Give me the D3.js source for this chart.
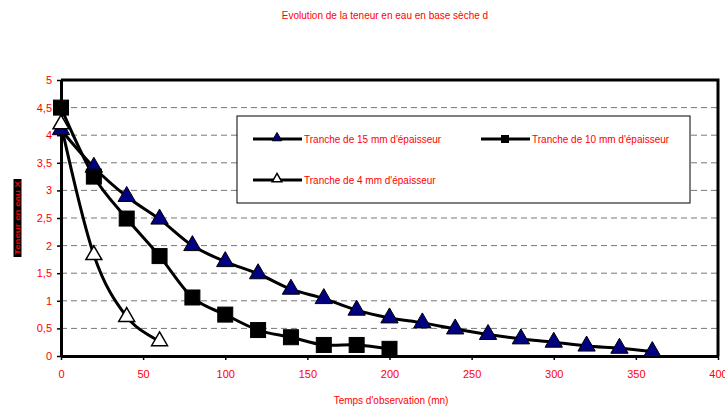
<!DOCTYPE html>
<html>
<head>
<meta charset="utf-8">
<script src="https://cdn.jsdelivr.net/npm/d3@7"></script>
<style>
  body { margin: 0; background: #fff; }
  text { font-family: "Liberation Sans", Arial, sans-serif; }
</style>
</head>
<body>
<svg id="chart" width="725" height="406"></svg>
<script>
// Data (time in mn, moisture content)
const time15 = [0, 20, 40, 60, 80, 100, 120, 140, 160, 180, 200, 220, 240, 260, 280, 300, 320, 340, 360];
const val15  = [4.1, 3.42, 2.89, 2.48, 2.0, 1.71, 1.49, 1.21, 1.04, 0.83, 0.69, 0.6, 0.49, 0.39, 0.31, 0.25, 0.18, 0.14, 0.08];
const time10 = [0, 20, 40, 60, 80, 100, 120, 140, 160, 180, 200];
const val10  = [4.5, 3.25, 2.49, 1.81, 1.06, 0.75, 0.47, 0.34, 0.2, 0.2, 0.13];
const time4  = [0, 20, 40, 60];
const val4   = [4.2, 1.83, 0.71, 0.27];
const xTicks = [0, 50, 100, 150, 200, 250, 300, 350, 400];
const yTicks = [0, 0.5, 1, 1.5, 2, 2.5, 3, 3.5, 4, 4.5, 5];
const seriesNames = ["Tranche de 15 mm d'épaisseur", "Tranche de 10 mm d'épaisseur", "Tranche de 4 mm d'épaisseur"];

const margin = {top: 80, right: 6, bottom: 50, left: 61};
const svg = d3.select('#chart');
const width = 725 - margin.left - margin.right;
const height = 406 - margin.top - margin.bottom;
const red = '#ff0000';

const x = d3.scaleLinear().domain([0, 400]).range([0, width - 1]);
const y = d3.scaleLinear().domain([0, 5]).range([height, 0]);

const chart = svg.append('g').attr('transform', `translate(${margin.left},${margin.top})`);

// title
svg.append('text')
    .attr('x', 385).attr('y', 19)
    .attr('text-anchor', 'middle')
    .attr('fill', red).attr('font-size', 10)
    .text('Evolution de la teneur en eau en base sèche d');

// dashed gridlines
chart.selectAll('.grid')
    .data(yTicks.filter(d => d > 0 && d < 5))
  .join('line')
    .attr('x1', 0).attr('x2', width)
    .attr('y1', d => y(d)).attr('y2', d => y(d))
    .attr('stroke', '#777').attr('stroke-width', 1)
    .attr('stroke-dasharray', '6,4');

// frame (top and right)
chart.append('path')
    .attr('d', `M0,${y(5)}H${x(400)}V${y(0)}`)
    .attr('fill', 'none').attr('stroke', '#000').attr('stroke-width', 3);

// axes
const xAxis = d3.axisBottom(x).tickValues(xTicks).tickSize(4).tickSizeOuter(0).tickFormat(d3.format('d'));
const yAxis = d3.axisLeft(y).tickValues(yTicks).tickSize(4).tickSizeOuter(0)
    .tickFormat(d => String(d).replace('.', ','));

const xG = chart.append('g').attr('transform', `translate(0,${height})`).call(xAxis);
const yG = chart.append('g').call(yAxis);
[xG, yG].forEach(g => {
  g.select('.domain').attr('stroke', '#000').attr('stroke-width', 3);
  g.selectAll('.tick line').attr('stroke', '#000').attr('stroke-width', 1.5);
  g.selectAll('.tick text').attr('fill', red).attr('font-size', 11)
      .attr('font-family', '"Liberation Sans", Arial, sans-serif');
});
xG.selectAll('.tick text').attr('dy', '1.35em');
yG.selectAll('.tick text').attr('dx', '-2');

// axis titles
svg.append('text')
    .attr('x', 391).attr('y', 404)
    .attr('text-anchor', 'middle')
    .attr('fill', red).attr('font-size', 10)
    .text("Temps d'observation (mn)");

const yLab = svg.append('g').attr('transform', 'translate(17.5,218) rotate(-90)');
yLab.append('rect').attr('x', -39).attr('y', -4).attr('width', 78).attr('height', 8).attr('fill', '#000');
yLab.append('text')
    .attr('text-anchor', 'middle').attr('dy', '0.35em')
    .attr('fill', red).attr('font-size', 8).attr('font-weight', 'bold')
    .attr('textLength', 74).attr('lengthAdjust', 'spacingAndGlyphs')
    .text('Teneur en eau X');

// lines
const line = d3.line().x(d => x(d[0])).y(d => y(d[1])).curve(d3.curveCardinal.tension(0));
const s15 = d3.zip(time15, val15);
const s10 = d3.zip(time10, val10);
const s4 = d3.zip(time4, val4);

[s15, s10, s4].forEach(s => {
  chart.append('path').datum(s)
      .attr('d', line)
      .attr('fill', 'none').attr('stroke', '#000').attr('stroke-width', 3);
});

// markers
const tri = d3.symbol().type(d3.symbolTriangle).size(130);
const tri4 = d3.symbol().type(d3.symbolTriangle).size(110);

chart.selectAll('.m15').data(s15).join('path')
    .attr('d', tri)
    .attr('transform', d => `translate(${x(d[0])},${y(d[1])})`)
    .attr('fill', '#000080').attr('stroke', '#000').attr('stroke-width', 1);

chart.selectAll('.m10').data(s10).join('rect')
    .attr('x', d => x(d[0]) - 7.5).attr('y', d => y(d[1]) - 7.5)
    .attr('width', 15).attr('height', 15)
    .attr('fill', '#000').attr('stroke', '#000').attr('stroke-width', 1);

chart.selectAll('.m4').data(s4).join('path')
    .attr('d', tri4)
    .attr('transform', d => `translate(${x(d[0])},${y(d[1])})`)
    .attr('fill', '#fff').attr('stroke', '#000').attr('stroke-width', 1.5);

// legend
const legend = svg.append('g');
legend.append('rect')
    .attr('x', 237).attr('y', 116).attr('width', 453).attr('height', 87)
    .attr('fill', '#fff').attr('stroke', '#000').attr('stroke-width', 1);

const legendItems = [
  {name: seriesNames[0], lx: 253, ly: 139, marker: 'tri'},
  {name: seriesNames[1], lx: 481, ly: 139, marker: 'sq'},
  {name: seriesNames[2], lx: 253, ly: 180, marker: 'open'}
];
legendItems.forEach(d => {
  legend.append('line')
      .attr('x1', d.lx).attr('x2', d.lx + 49)
      .attr('y1', d.ly).attr('y2', d.ly)
      .attr('stroke', '#000').attr('stroke-width', 3);
  const cx = d.lx + 24;
  if (d.marker === 'tri') {
    legend.append('path').attr('d', d3.symbol().type(d3.symbolTriangle).size(40))
        .attr('transform', `translate(${cx},${d.ly - 1})`)
        .attr('fill', '#000080').attr('stroke', '#000').attr('stroke-width', 1);
  } else if (d.marker === 'sq') {
    legend.append('rect').attr('x', cx - 4).attr('y', d.ly - 4).attr('width', 8).attr('height', 8)
        .attr('fill', '#000');
  } else {
    legend.append('path').attr('d', d3.symbol().type(d3.symbolTriangle).size(40))
        .attr('transform', `translate(${cx},${d.ly - 1})`)
        .attr('fill', '#fff').attr('stroke', '#000').attr('stroke-width', 1.5);
  }
  legend.append('text')
      .attr('x', d.lx + 51).attr('y', d.ly).attr('dy', '0.35em')
      .attr('fill', red).attr('font-size', 10)
      .text(d.name);
});
</script>
</body>
</html>
